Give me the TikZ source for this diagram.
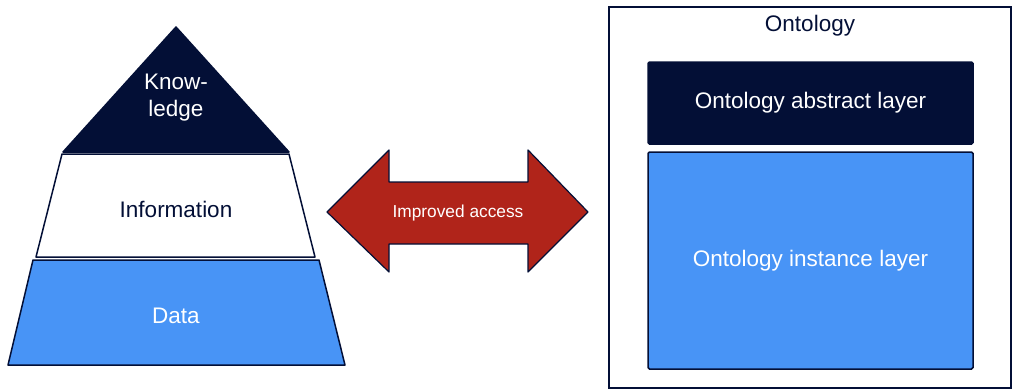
\documentclass[tikz,border=0pt]{standalone}
\usepackage{fontspec}
\setmainfont{Liberation Sans}
\usepackage{tikz}
\tikzset{>=latex}
\usetikzlibrary{calc}
\definecolor{navy}{RGB}{3,15,54}
\definecolor{skyblue}{RGB}{72,148,246}
\definecolor{brick}{RGB}{176,36,26}
\tikzset{
    layer/.style={draw=navy, line width=1.5pt, line join=round},
    label/.style={font=\fontsize{22.5}{27}\selectfont, align=center, inner sep=0pt},
    box/.style={draw=navy, line width=1.5pt, rounded corners=1.5pt, inner sep=0pt}
}

\begin{document}
\begin{tikzpicture}[x=1pt,y=-1pt]
    % Bounding box in pixel units
    \useasboundingbox (0,0) rectangle (1013,391);
    % Pyramid layers
    \filldraw[layer, fill=navy] (176,27) -- (289,152) -- (63,152) -- cycle;
    \filldraw[layer, fill=white] (62,154) -- (289,154) -- (315,257) -- (36,257) -- cycle;
    \filldraw[layer, fill=skyblue] (33,260) -- (319,260) -- (345,365) -- (8,365) -- cycle;
    \node[label, text=white] (knowledge) at (176,98) {Know-\\ledge};
    \node[label, text=navy] (information) at (176,209) {Information};
    \node[label, text=white] (data) at (176,316) {Data};
    % Double arrow
    \filldraw[draw=navy, fill=brick, line width=1.2pt, line join=round]
        (327,212) -- (389,150) -- (389,182) -- (528,182) -- (528,150)
        -- (588,212) -- (528,272) -- (528,244) -- (389,244) -- (389,272) -- cycle;
    \node[label, text=white, font=\fontsize{17.3}{20}\selectfont] (access) at (458,213) {Improved access};
    % Ontology frame
    \node[draw=navy, line width=2pt, minimum width=402, minimum height=381, inner sep=0pt] (ontology) at (810,197.5) {};
    \node[label, text=navy] (title) at (810,26) {Ontology};
    % Ontology layers
    \node[box, fill=navy, minimum width=325, minimum height=82] (abstract) at (810.5,103) {};
    \node[label, text=white] at (abstract.center) {Ontology abstract layer};
    \node[box, fill=skyblue, minimum width=325, minimum height=217] (instance) at (810.5,260.5) {};
    \node[label, text=white] at (instance.center) {Ontology instance layer};
\end{tikzpicture}
\end{document}
